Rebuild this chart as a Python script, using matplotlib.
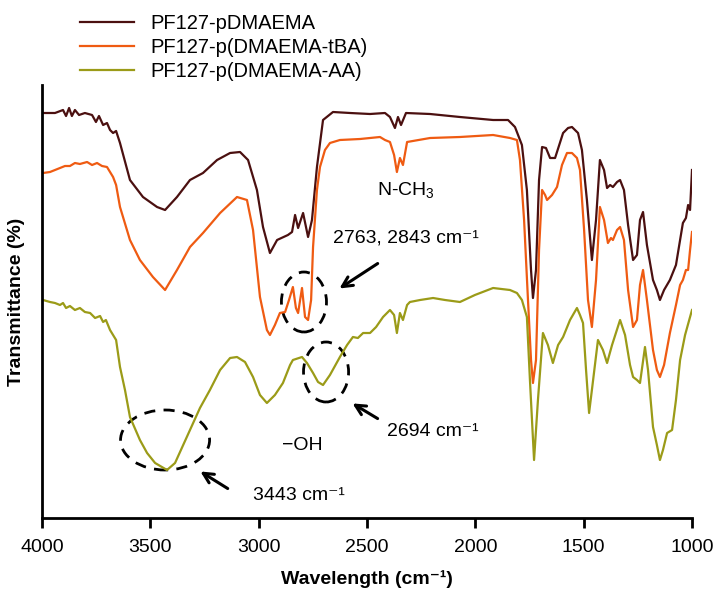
import matplotlib
matplotlib.use("Agg")
import matplotlib.pyplot as plt
from matplotlib.patches import Ellipse

plt.rcParams['font.family'] = ['Liberation Sans', 'DejaVu Sans']
plt.rcParams['mathtext.default'] = 'regular'

# (wavenumber cm^-1, transmittance a.u.)
pdmaema = [(3995, 405), (3940, 405), (3903, 408), (3889, 402), (3875, 410), (3862, 402), (3848, 408),
           (3829, 403), (3802, 405), (3769, 403), (3751, 396), (3737, 402), (3718, 393), (3700, 395),
           (3686, 388), (3672, 385), (3658, 387), (3640, 375), (3594, 338), (3534, 321), (3469, 311),
           (3432, 308), (3377, 321), (3317, 338), (3257, 345), (3192, 358), (3132, 365), (3086, 366),
           (3049, 358), (3008, 328), (2980, 291), (2948, 265), (2915, 278), (2865, 283), (2846, 286),
           (2832, 303), (2818, 290), (2795, 305), (2772, 281), (2754, 298), (2731, 351), (2703, 398),
           (2657, 406), (2578, 405), (2486, 404), (2417, 405), (2394, 401), (2371, 390), (2357, 401),
           (2343, 393), (2320, 405), (2209, 404), (2071, 401), (1918, 398), (1849, 398), (1817, 391),
           (1785, 373), (1762, 328), (1743, 248), (1734, 220), (1720, 248), (1706, 338), (1692, 371),
           (1674, 370), (1655, 360), (1632, 360), (1595, 385), (1572, 390), (1554, 391), (1526, 385),
           (1508, 368), (1485, 318), (1462, 258), (1443, 298), (1425, 358), (1406, 348), (1392, 330),
           (1378, 333), (1365, 331), (1346, 336), (1332, 338), (1314, 328), (1295, 293), (1272, 258),
           (1254, 263), (1240, 298), (1226, 306), (1208, 273), (1180, 238), (1162, 228), (1148, 218),
           (1129, 228), (1102, 238), (1074, 253), (1055, 278), (1042, 295), (1028, 300), (1018, 313),
           (1009, 308), (1000, 348)]

p_dmaema_tba = [(3995, 345), (3963, 346), (3940, 348), (3917, 350), (3894, 352), (3871, 352), (3848, 355),
                (3825, 354), (3792, 356), (3769, 353), (3746, 355), (3723, 352), (3700, 351), (3672, 341),
                (3658, 333), (3640, 311), (3594, 278), (3548, 258), (3488, 241), (3432, 228), (3377, 248),
                (3317, 271), (3257, 285), (3178, 305), (3100, 321), (3054, 318), (3026, 288), (2994, 221),
                (2962, 188), (2948, 183), (2925, 193), (2902, 205), (2878, 206), (2860, 218),
                (2842, 231), (2828, 210), (2818, 205), (2800, 230), (2786, 201), (2772, 198), (2758, 218),
                (2749, 271), (2731, 328), (2717, 351), (2694, 368), (2671, 375), (2625, 378), (2532, 379),
                (2440, 381), (2417, 378), (2394, 376), (2375, 363), (2362, 346), (2348, 360), (2334, 353),
                (2315, 376), (2209, 380), (2071, 381), (1918, 383), (1840, 380), (1808, 378), (1794, 358),
                (1775, 298), (1757, 218), (1743, 158), (1734, 135), (1720, 158), (1706, 268), (1692, 328),
                (1678, 323), (1669, 318), (1646, 323), (1623, 331), (1600, 353), (1577, 365), (1554, 365),
                (1531, 360), (1517, 348), (1498, 288), (1480, 218), (1462, 191), (1443, 238), (1425, 311),
                (1406, 298), (1388, 275), (1374, 280), (1365, 278), (1346, 288), (1332, 291), (1314, 278),
                (1295, 228), (1272, 191), (1254, 198), (1240, 233), (1226, 248), (1208, 218), (1180, 168),
                (1162, 148), (1148, 141), (1129, 153), (1102, 185), (1074, 213), (1055, 233), (1042, 238),
                (1028, 248), (1018, 248), (1009, 268), (1000, 286)]

p_dmaema_aa = [(3995, 218), (3963, 216), (3940, 215), (3917, 213), (3903, 215), (3889, 210), (3871, 212),
               (3848, 208), (3825, 210), (3802, 206), (3778, 205), (3755, 200), (3732, 202), (3718, 196),
               (3705, 198), (3686, 188), (3672, 183), (3658, 178), (3640, 151), (3617, 128), (3594, 101),
               (3548, 78), (3515, 65), (3478, 55), (3423, 48), (3386, 55), (3317, 88), (3271, 110),
               (3225, 128), (3178, 148), (3132, 160), (3100, 161), (3063, 156), (3026, 141), (2994, 123),
               (2962, 115), (2925, 123), (2888, 135), (2855, 153), (2842, 158), (2800, 161), (2777, 155),
               (2749, 145), (2726, 136), (2703, 133), (2671, 143), (2625, 161), (2592, 173), (2565, 181),
               (2542, 180), (2518, 185), (2486, 185), (2458, 191), (2426, 201), (2394, 208), (2375, 203),
               (2362, 185), (2348, 205), (2334, 198), (2315, 213), (2302, 216), (2255, 218), (2195, 220),
               (2140, 218), (2071, 216), (2002, 223), (1918, 230), (1840, 228), (1808, 225), (1785, 218),
               (1762, 201), (1748, 138), (1729, 58), (1711, 118), (1688, 185), (1665, 173), (1642, 155),
               (1618, 173), (1595, 181), (1563, 198), (1531, 210), (1517, 203), (1503, 195), (1489, 148),
               (1475, 105), (1462, 128), (1434, 178), (1411, 168), (1392, 155), (1369, 173), (1332, 198),
               (1309, 183), (1286, 153), (1272, 141), (1254, 138), (1240, 135), (1217, 171), (1203, 148),
               (1180, 91), (1162, 73), (1148, 58), (1134, 68), (1115, 85), (1092, 88), (1074, 118),
               (1055, 158), (1032, 183), (1009, 201), (1000, 208)]

series_labels = ['PF127-pDMAEMA', 'PF127-p(DMAEMA-tBA)', 'PF127-p(DMAEMA-AA)']
series_colors = ['#4b1010', '#ef5b12', '#9b9b18']
x_ticks = [4000, 3500, 3000, 2500, 2000, 1500, 1000]

fig = plt.figure(figsize=(7.14, 5.96), dpi=100)
ax = fig.add_axes([42 / 714, 1 - 518 / 596, 650 / 714, 433 / 596])

lines = []
for data, lab, col in zip([pdmaema, p_dmaema_tba, p_dmaema_aa], series_labels, series_colors):
    xs = [p[0] for p in data]
    ys = [p[1] for p in data]
    ln, = ax.plot(xs, ys, color=col, lw=1.6, label=lab, solid_joinstyle='round')
    lines.append(ln)

ax.set_xlim(4000, 1000)
ax.set_ylim(0, 433)
ax.set_xticks(x_ticks)
ax.set_xticklabels([str(t) for t in x_ticks], fontsize=14)
ax.set_yticks([])
ax.spines['top'].set_visible(False)
ax.spines['right'].set_visible(False)
ax.spines['left'].set_linewidth(2)
ax.spines['bottom'].set_linewidth(2)
ax.tick_params(axis='x', direction='out', length=7, width=2, pad=8)
ax.set_xlabel('Wavelength (cm⁻¹)', fontsize=14, fontweight='bold', labelpad=10)
ax.set_ylabel('Transmittance (%)', fontsize=14, fontweight='bold', labelpad=12)

# dashed circles
for (cx, cy, w, h) in [(2791, 216, 208, 60), (2689, 146, 208, 60), (3432, 78, 411, 60)]:
    ax.add_patch(Ellipse((cx, cy), w, h, fill=False, ls=(0, (4, 3)), lw=2, color='black'))

arrow_kw = dict(arrowstyle='->', lw=2.2, color='black', mutation_scale=18)
ax.annotate('', xy=(2638, 228), xytext=(2440, 256), arrowprops=arrow_kw)
ax.annotate('', xy=(2578, 116), xytext=(2440, 98), arrowprops=arrow_kw)
ax.annotate('', xy=(3280, 48), xytext=(3132, 28), arrowprops=arrow_kw)

fs = 14
ax.text(2454, 328, 'N-CH$_3$', fontsize=fs, va='center', ha='left')
ax.text(2657, 280, '2763, 2843 cm⁻¹', fontsize=fs, va='center', ha='left')
ax.text(2408, 86, '2694 cm⁻¹', fontsize=fs, va='center', ha='left')
ax.text(2892, 73, '−OH', fontsize=fs, va='center', ha='left')
ax.text(3026, 23, '3443 cm⁻¹', fontsize=fs, va='center', ha='left')

fig.legend(handles=lines, labels=series_labels, loc='upper left',
           bbox_to_anchor=(80 / 714, 1 - 14 / 596), frameon=False, fontsize=14.5,
           handlelength=2.7, handletextpad=0.8, labelspacing=0.25, borderpad=0,
           borderaxespad=0)

fig.savefig('out.png', dpi=100)
